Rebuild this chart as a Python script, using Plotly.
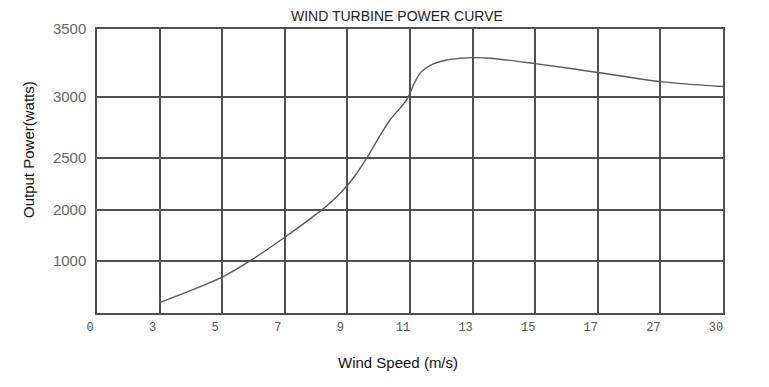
import numpy as np
import plotly.graph_objects as go

# ---- data ----
x_tick_labels = ["0", "3", "5", "7", "9", "11", "13", "15", "17", "27", "30"]
y_tick_labels = ["1000", "2000", "2500", "3000", "3500"]
wind_speed = [3, 5, 5.88, 7, 8.18, 8.55, 9.01, 9.3, 9.62, 9.99, 10.36, 10.68, 10.89,
              11, 11.16, 11.37, 11.74, 12.17, 12.6, 13, 13.56, 15, 17, 27, 30]
power_w = [200, 690, 1000, 1465, 2000, 2096, 2240, 2353, 2500, 2661, 2811, 2907, 2975,
           3027, 3112, 3186, 3243, 3272, 3284, 3289, 3285, 3245, 3180, 3112, 3076]

# ---- axis mapping (the original chart uses evenly spaced, non-linear ticks) ----
x_tick_speeds = [float(v) for v in x_tick_labels]
x_pos = np.interp(wind_speed, x_tick_speeds, np.arange(len(x_tick_speeds)))

y_tick_watts = [0] + [float(v) for v in y_tick_labels]
y_grid_frac = [0, 0.183, 0.363, 0.546, 0.761, 1.0]
y_pos = np.interp(power_w, y_tick_watts, y_grid_frac)

grid_col = "#505050"

fig = go.Figure()
fig.add_trace(go.Scatter(
    x=x_pos, y=y_pos, mode="lines",
    line=dict(color="#5a5a5a", width=1.4, shape="spline", smoothing=0.9),
    hoverinfo="skip", showlegend=False,
))

# page body has an 8px default margin, so the figure is offset by 8px
W, H = 761, 379
ML, MR, MT, MB = 89, 46, 21, 74
fig.update_layout(
    width=W, height=H,
    margin=dict(l=ML, r=MR, t=MT, b=MB),
    paper_bgcolor="white", plot_bgcolor="white",
    font=dict(family="Liberation Sans, Arial, sans-serif"),
    showlegend=False,
)
fig.update_xaxes(
    range=[0, 10], tickmode="array", automargin=False,
    tickvals=list(range(len(x_tick_labels))), ticktext=x_tick_labels,
    showgrid=True, gridcolor=grid_col, gridwidth=1.5,
    showline=True, linecolor=grid_col, linewidth=1.5, mirror=True,
    zeroline=False, ticks="", ticklabelshift=-7, ticklabelstandoff=2,
    tickfont=dict(family="Liberation Mono, DejaVu Sans Mono, monospace", size=12, color="#555555"),
)
fig.update_yaxes(
    range=[0, 1], tickmode="array", automargin=False,
    tickvals=y_grid_frac[1:], ticktext=y_tick_labels,
    showgrid=True, gridcolor=grid_col, gridwidth=1.5,
    showline=True, linecolor=grid_col, linewidth=1.5, mirror=True,
    zeroline=False, ticks="", ticklabelstandoff=6,
    tickfont=dict(family="Liberation Sans, Arial, sans-serif", size=15, color="#666666"),
)

plot_w = W - ML - MR
plot_h = H - MT - MB
fig.add_annotation(text="WIND TURBINE POWER CURVE", xref="paper", yref="paper",
                   x=(396.5 - 97) / plot_w, y=1, yshift=13, showarrow=False,
                   font=dict(size=14, color="#222222"), xanchor="center", yanchor="middle")
fig.add_annotation(text="Wind Speed (m/s)", xref="paper", yref="paper",
                   x=(398 - 97) / plot_w, y=0, yshift=-(362 - 313), showarrow=False,
                   font=dict(size=15, color="#111111"), xanchor="center", yanchor="middle")
fig.add_annotation(text="Output Power(watts)", xref="paper", yref="paper",
                   x=0, xshift=-(97 - 28), y=(313 - 150) / plot_h, showarrow=False, textangle=-90,
                   font=dict(size=15, color="#111111"), xanchor="center", yanchor="middle")

fig.write_html("out.html")
